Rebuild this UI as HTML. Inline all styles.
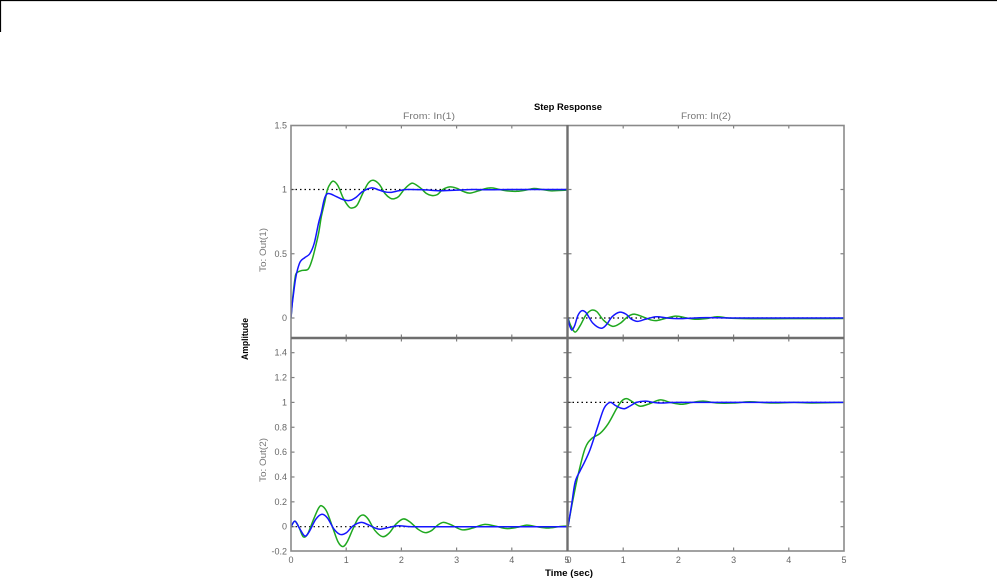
<!DOCTYPE html>
<html><head><meta charset="utf-8">
<style>
html,body{margin:0;padding:0;background:#fff;}
svg{display:block;}
text{font-family:"Liberation Sans",Arial,sans-serif;}
.tl{font-size:9px;fill:#666;}
.hd{font-size:9px;fill:#777;}
.bk{font-size:9px;fill:#000;font-weight:bold;}
</style></head>
<body>
<svg id="s" width="997" height="581" viewBox="0 0 997 581" xmlns="http://www.w3.org/2000/svg">
<rect width="997" height="581" fill="#fff"/>
<line x1="0" y1="0.5" x2="997" y2="0.5" stroke="#000" stroke-width="1.2"/>
<line x1="0.5" y1="0" x2="0.5" y2="32" stroke="#000" stroke-width="1.2"/>
<defs>
<clipPath id="cTL"><rect x="291" y="125" width="276" height="212"/></clipPath>
<clipPath id="cTR"><rect x="568" y="125" width="276" height="212"/></clipPath>
<clipPath id="cBL"><rect x="291" y="339" width="276" height="212"/></clipPath>
<clipPath id="cBR"><rect x="568" y="339" width="276" height="212"/></clipPath>
</defs>
<g id="ticks" stroke="#808080" stroke-width="1.2"></g>
<g id="curves"></g>
<g id="frame" fill="none">
<rect x="291" y="125.5" width="553" height="425.5" stroke="#8a8a8a" stroke-width="1.6"/>
<line x1="567.5" y1="125" x2="567.5" y2="551" stroke="#6e6e6e" stroke-width="2.4"/>
<line x1="291" y1="338" x2="844" y2="338" stroke="#6e6e6e" stroke-width="2.4"/>
</g>
<g id="labels"></g>
<text class="bk" x="568" y="110" text-anchor="middle" textLength="68" lengthAdjust="spacingAndGlyphs">Step Response</text>
<text class="hd" x="429" y="119" text-anchor="middle" textLength="52" lengthAdjust="spacingAndGlyphs">From: In(1)</text>
<text class="hd" x="706" y="119" text-anchor="middle" textLength="50" lengthAdjust="spacingAndGlyphs">From: In(2)</text>
<text class="bk" x="569" y="576" text-anchor="middle" textLength="48" lengthAdjust="spacingAndGlyphs">Time (sec)</text>
<text class="bk" transform="translate(248,339) rotate(-90)" text-anchor="middle" textLength="42" lengthAdjust="spacingAndGlyphs">Amplitude</text>
<text class="hd" transform="translate(266,250) rotate(-90)" text-anchor="middle" textLength="44" lengthAdjust="spacingAndGlyphs">To: Out(1)</text>
<text class="hd" transform="translate(266,460) rotate(-90)" text-anchor="middle" textLength="44" lengthAdjust="spacingAndGlyphs">To: Out(2)</text>
</svg>
<script>
(function(){
var NS="http://www.w3.org/2000/svg";
function el(tag,attrs,parent,txt){var e=document.createElementNS(NS,tag);for(var k in attrs)e.setAttribute(k,attrs[k]);if(txt!==undefined)e.textContent=txt;parent.appendChild(e);return e;}
var ticks=document.getElementById('ticks'),labels=document.getElementById('labels'),curves=document.getElementById('curves');
var XL=function(t){return 291+55.2*t;}, XR=function(t){return 568+55.2*t;};
var YT=function(v){return 318-128.5*v;}, YB=function(v){return 526.7-124.3*v;};
var L=3.5;
// x ticks
for(var i=1;i<=4;i++){
 [XL(i),XR(i)].forEach(function(x){
  el('line',{x1:x,y1:125,x2:x,y2:125+L},ticks);
  el('line',{x1:x,y1:338-L,x2:x,y2:338+L},ticks);
  el('line',{x1:x,y1:551,x2:x,y2:551-L},ticks);
 });
}
// y ticks top
[0,0.5,1].forEach(function(v){var y=YT(v);
 el('line',{x1:291,y1:y,x2:291+L,y2:y},ticks);
 el('line',{x1:567-L,y1:y,x2:568+L,y2:y},ticks);
 el('line',{x1:844,y1:y,x2:844-L,y2:y},ticks);
});
[0,0.2,0.4,0.6,0.8,1,1.2,1.4].forEach(function(v){var y=YB(v);
 el('line',{x1:291,y1:y,x2:291+L,y2:y},ticks);
 el('line',{x1:567-L,y1:y,x2:568+L,y2:y},ticks);
 el('line',{x1:844,y1:y,x2:844-L,y2:y},ticks);
});
// labels
[[1.5,'1.5'],[1,'1'],[0.5,'0.5'],[0,'0']].forEach(function(a){el('text',{'class':'tl',x:287,y:YT(a[0])+3,'text-anchor':'end'},labels,a[1]);});
[[1.4,'1.4'],[1.2,'1.2'],[1,'1'],[0.8,'0.8'],[0.6,'0.6'],[0.4,'0.4'],[0.2,'0.2'],[0,'0'],[-0.2,'-0.2']].forEach(function(a){el('text',{'class':'tl',x:287,y:YB(a[0])+3,'text-anchor':'end'},labels,a[1]);});
for(var j=0;j<=5;j++){
 el('text',{'class':'tl',x:XL(j),y:563,'text-anchor':'middle'},labels,String(j));
 el('text',{'class':'tl',x:XR(j)+(j==0?1:0),y:563,'text-anchor':'middle'},labels,String(j));
}
// reference dotted lines
function dot(x1,x2,y,clip){el('line',{x1:x1,y1:y,x2:x2,y2:y,stroke:'#000','stroke-width':1.2,'stroke-dasharray':'1.5 3','clip-path':'url(#'+clip+')'},curves);}
dot(291,567,YT(1),'cTL');dot(568,844,YT(0),'cTR');dot(291,567,YB(0),'cBL');dot(568,844,YB(1),'cBR');
function path(pts,fx,fy,color,clip){
 var P=pts.map(function(p){return [fx(p[0]),fy(p[1])];});
 var d='M'+P[0][0].toFixed(2)+','+P[0][1].toFixed(2);
 for(var i=0;i<P.length-1;i++){
  var p0=P[i>0?i-1:0],p1=P[i],p2=P[i+1],p3=P[i+2<P.length?i+2:i+1];
  var c1=[p1[0]+(p2[0]-p0[0])/6,p1[1]+(p2[1]-p0[1])/6];
  var c2=[p2[0]-(p3[0]-p1[0])/6,p2[1]-(p3[1]-p1[1])/6];
  d+=' C'+c1[0].toFixed(2)+','+c1[1].toFixed(2)+' '+c2[0].toFixed(2)+','+c2[1].toFixed(2)+' '+p2[0].toFixed(2)+','+p2[1].toFixed(2);
 }
 el('path',{d:d,fill:'none',stroke:color,'stroke-width':1.5,'stroke-linejoin':'round','clip-path':'url(#'+clip+')'},curves);
}
var G='#1fa81f',B='#1515ff';
var tlG=[[0,0],[0.03,0.15],[0.07,0.3],[0.1,0.35],[0.2,0.37],[0.31,0.38],[0.38,0.45],[0.43,0.53],[0.5,0.66],[0.55,0.79],[0.61,0.9],[0.66,1.0],[0.72,1.05],[0.77,1.065],[0.85,1.03],[0.95,0.93],[1.05,0.865],[1.12,0.857],[1.2,0.88],[1.3,0.97],[1.4,1.05],[1.49,1.072],[1.6,1.04],[1.7,0.97],[1.8,0.932],[1.87,0.928],[1.95,0.945],[2.05,1.0],[2.15,1.04],[2.22,1.047],[2.35,1.01],[2.45,0.97],[2.55,0.953],[2.65,0.96],[2.75,1.0],[2.88,1.02],[3.0,1.01],[3.12,0.985],[3.24,0.972],[3.4,0.99],[3.55,1.01],[3.66,1.012],[3.8,0.998],[3.95,0.988],[4.1,0.986],[4.25,0.995],[4.4,1.008],[4.55,1.0],[4.7,0.99],[4.85,0.992],[5,0.995]];
var tlB=[[0,0],[0.02,0.1],[0.04,0.17],[0.08,0.3],[0.12,0.38],[0.17,0.44],[0.25,0.47],[0.34,0.5],[0.42,0.58],[0.5,0.74],[0.55,0.82],[0.6,0.92],[0.65,0.965],[0.72,0.965],[0.82,0.945],[0.95,0.92],[1.07,0.915],[1.18,0.94],[1.3,0.985],[1.46,1.013],[1.6,0.995],[1.72,0.98],[1.82,0.978],[1.95,0.99],[2.1,1.0],[2.4,0.998],[2.7,0.99],[3.0,0.995],[3.3,1.0],[3.6,0.998],[4.0,1.0],[4.5,1.0],[5,1.0]];
var trB=[[0,0],[0.03,-0.06],[0.07,-0.094],[0.12,-0.06],[0.18,0.02],[0.25,0.057],[0.33,0.04],[0.45,-0.04],[0.6,-0.08],[0.7,-0.05],[0.8,0.01],[0.93,0.045],[1.05,0.03],[1.15,-0.01],[1.26,-0.026],[1.4,-0.01],[1.6,0.01],[1.8,0.0],[2.0,-0.005],[2.5,0.003],[3,0],[4,0],[5,0]];
var trG=[[0,0],[0.05,-0.06],[0.13,-0.11],[0.22,-0.06],[0.32,0.02],[0.42,0.06],[0.52,0.05],[0.65,-0.02],[0.81,-0.065],[0.95,-0.04],[1.08,0.01],[1.2,0.03],[1.35,0.01],[1.5,-0.015],[1.6,-0.02],[1.75,-0.005],[1.95,0.015],[2.15,0.0],[2.3,-0.01],[2.5,-0.005],[2.7,0.01],[2.9,0.0],[3.2,-0.005],[3.6,-0.006],[4.0,-0.005],[4.5,-0.005],[5,-0.004]];
var blG=[[0,0],[0.07,0.045],[0.14,0.0],[0.22,-0.08],[0.3,-0.06],[0.4,0.05],[0.5,0.15],[0.56,0.167],[0.65,0.12],[0.75,0.0],[0.85,-0.12],[0.94,-0.16],[1.02,-0.12],[1.12,-0.02],[1.22,0.07],[1.31,0.094],[1.4,0.06],[1.52,-0.03],[1.66,-0.08],[1.78,-0.05],[1.9,0.02],[2.03,0.062],[2.15,0.04],[2.3,-0.02],[2.43,-0.048],[2.55,-0.03],[2.65,0.01],[2.76,0.035],[2.9,0.015],[3.1,-0.025],[3.3,-0.01],[3.5,0.018],[3.7,0.005],[3.9,-0.015],[4.1,-0.005],[4.27,0.013],[4.45,0.0],[4.65,-0.01],[4.85,0.0],[5,0.005]];
var blB=[[0,0],[0.07,0.045],[0.15,-0.01],[0.25,-0.075],[0.33,-0.04],[0.45,0.06],[0.56,0.1],[0.66,0.07],[0.78,-0.02],[0.89,-0.062],[1.0,-0.05],[1.12,0.005],[1.27,0.035],[1.4,0.015],[1.52,-0.01],[1.62,-0.02],[1.78,-0.005],[1.95,0.008],[2.2,0.0],[3,0],[4,0],[5,0]];
var brB=[[0,0],[0.03,0.08],[0.07,0.19],[0.13,0.36],[0.22,0.45],[0.3,0.52],[0.4,0.62],[0.52,0.78],[0.64,0.94],[0.72,0.99],[0.78,1.0],[0.86,0.975],[0.95,0.955],[1.03,0.95],[1.12,0.97],[1.24,1.0],[1.4,1.01],[1.55,1.0],[1.7,0.995],[2.0,1.0],[3,1.0],[4,1.0],[5,1.0]];
var brG=[[0,0],[0.04,0.1],[0.1,0.24],[0.19,0.43],[0.31,0.63],[0.43,0.71],[0.58,0.75],[0.73,0.83],[0.88,0.95],[0.97,1.01],[1.06,1.03],[1.15,1.01],[1.3,0.97],[1.45,0.985],[1.67,1.02],[1.85,1.0],[2.06,0.985],[2.25,1.0],[2.45,1.01],[2.7,0.995],[3.0,0.995],[3.3,1.005],[3.7,0.995],[4.1,1.0],[4.4,0.995],[5,1.0]];
path(tlG,XL,YT,G,'cTL');path(tlB,XL,YT,B,'cTL');
path(trG,XR,YT,G,'cTR');path(trB,XR,YT,B,'cTR');
path(blG,XL,YB,G,'cBL');path(blB,XL,YB,B,'cBL');
path(brG,XR,YB,G,'cBR');path(brB,XR,YB,B,'cBR');
})();
</script>
</body></html>
